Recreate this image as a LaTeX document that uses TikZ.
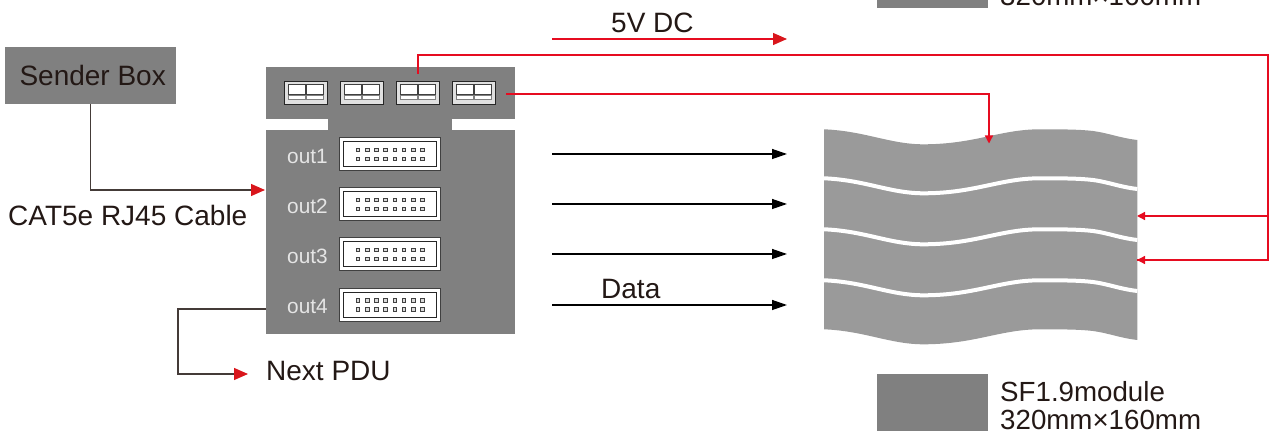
\documentclass[tikz,border=0pt]{standalone}
\usepackage{fontspec}
\setmainfont{Liberation Sans}
\usetikzlibrary{arrows.meta,calc}
\definecolor{boxgray}{HTML}{808080}
\definecolor{wavegray}{HTML}{9A9A9A}
\definecolor{redline}{HTML}{E60C20}
\definecolor{headred}{HTML}{D9161C}
\definecolor{darkline}{HTML}{231815}
\tikzset{
  box/.style={fill=boxgray,draw=none,inner sep=0pt,anchor=north west},
  lbl/.style={inner sep=0pt,text=darkline,font=\fontsize{28}{28}\selectfont},
  leglbl/.style={inner sep=0pt,text=darkline,font=\fontsize{27.7}{27.7}\selectfont},
  outlbl/.style={inner sep=0pt,text=white!90!black,font=\fontsize{20.8}{20.8}\selectfont},
  blackarrow/.style={draw=black,line width=1.3pt,-{Triangle[length=15pt,width=10pt,color=black]}},
  redarrow/.style={draw=redline,line width=1.3pt,-{Triangle[length=8pt,width=8pt,color=redline]}},
  redplain/.style={draw=redline,line width=1.3pt},
  cable/.style={draw=darkline!85!white,line width=1.3pt,-{Triangle[length=14pt,width=12pt,color=headred]}},
  termouter/.style={fill=black!12,draw=black!85,line width=1pt,minimum width=43pt,minimum height=23pt,inner sep=0pt},
  termwin/.style={fill=white,draw=black!75,line width=.8pt,minimum width=17pt,minimum height=9.5pt,inner sep=0pt},
  termstrip/.style={fill=white,draw=black!50,line width=.5pt,minimum width=17pt,minimum height=4.5pt,inner sep=0pt},
  connouter/.style={fill=white,draw=black!75,line width=1pt,minimum width=101pt,minimum height=33pt,inner sep=0pt},
  conninner/.style={fill=white,draw=black!85,line width=1pt,minimum width=93pt,minimum height=25pt,inner sep=0pt},
  pin/.style={fill=black!15,draw=black!75,line width=.7pt,minimum size=3.6pt,inner sep=0pt},
  legend/.style={box,minimum width=111pt,minimum height=57pt},
}
\newcommand{\wavepath}{(824,129.3) .. controls (865,131) and (890,144.3) .. (923.3,144.3)
  .. controls (975,144.3) and (1000,129.3) .. (1040,129.3)
  .. controls (1065,129.3) and (1080,129.5) .. (1093,131)
  .. controls (1108,133) and (1120,138) .. (1137.3,140)}
\begin{document}
\begin{tikzpicture}[x=1pt,y=-1pt]
\clip (0,0) rectangle (1280,435);
\useasboundingbox (0,0) rectangle (1280,435);
% legends
\node[legend] (legtop) at (877,-49) {};
\node[leglbl,anchor=base west] (legtoptxt) at (1000,6) {320mm×160mm};
\node[legend] (legbot) at (877,374) {};
\node[leglbl,anchor=base west] (legbot1) at (1000,401.5) {SF1.9module};
\node[leglbl,anchor=base west] (legbot2) at (1000,429) {320mm×160mm};
% sender box
\node[box,minimum width=171pt,minimum height=57pt] (sender) at (5,47) {};
\node[lbl] (sendertxt) at ([xshift=2pt]sender.center) {Sender Box};
% PDU
\node[box,minimum width=249pt,minimum height=52pt] (pdutop) at (266,67) {};
\node[box,minimum width=249pt,minimum height=204pt] (pdulow) at (266,130) {};
\node[box,minimum width=124pt,minimum height=12pt] (pduneck) at (328,119) {};
% terminals
\foreach \n/\x in {1/305.5,2/361.5,3/417.5,4/473.5}{
  \node[termouter] (term\n) at (\x,93.5) {};
  \node[termwin] at (\x-9,89.5) {};
  \node[termwin] at (\x+9,89.5) {};
  \node[termstrip] at (\x-9,97.5) {};
  \node[termstrip] at (\x+9,97.5) {};
}
% connectors
\foreach \n/\y in {1/154.5,2/204.5,3/254.5,4/305}{
  \node[connouter] (conn\n) at (389.5,\y) {};
  \node[conninner] at (389.5,\y) {};
  \foreach \i in {0,...,7}{
    \node[pin] at (358+\i*9.2,\y-4.5) {};
    \node[pin] at (358+\i*9.2,\y+4.5) {};
  }
  \node[outlbl,anchor=base west] (out\n) at (287,\y+9) {out\n};
}
% module
\path[fill=wavegray] \wavepath -- ++(0,200)
  .. controls (1120,338) and (1108,333) .. (1093,331)
  .. controls (1080,329.5) and (1065,329.3) .. (1040,329.3)
  .. controls (1000,329.3) and (975,344.3) .. (923.3,344.3)
  .. controls (890,344.3) and (865,331) .. (824,329.3) -- cycle;
\foreach \d in {49,100,151}{
  \draw[white,line width=4pt,yshift=-\d pt] \wavepath;
}
% free-end coordinates
\coordinate (pduin) at (265,190);
\coordinate (nextA) at (266,309);
\coordinate (nextB) at (178,309);
\coordinate (nextC) at (248,374);
\coordinate (term3top) at (418,74);
\coordinate (term4r) at (506,94);
\coordinate (modtop) at (989,143.5);
\coordinate (mod2) at (1137,216);
\coordinate (mod3) at (1137,260);
\coordinate (bus) at (1268,55);
% cables
\draw[cable] (sender.south) |- (pduin);
\draw[cable] (nextA) -- (nextB) |- (nextC);
\node[lbl,anchor=base west] (cat) at (8,225.5) {CAT5e RJ45 Cable};
\node[lbl,anchor=base west] (nextpdu) at (266,381) {Next PDU};
% data
\foreach \n/\y in {1/154,2/204,3/254,4/305}{
  \coordinate (ds\n) at (552,\y);
  \coordinate (de\n) at (787,\y);
  \draw[blackarrow] (ds\n) -- (de\n);
}
\node[lbl,anchor=base west] (datatxt) at (601,299) {Data};
% power
\coordinate (vs) at (552,39);
\coordinate (ve) at (787,39);
\draw[redline,line width=1.3pt,-{Triangle[length=14pt,width=12pt,color=headred]}] (vs) -- (ve);
\node[lbl,anchor=base west] (vtxt) at (611,32.5) {5V DC};
\draw[redarrow] (term4r) -| (modtop);
\draw[redplain] (term3top) |- (bus) |- (mod3);
\draw[redarrow] (bus |- mod2) -- (mod2);
\draw[redarrow] (bus |- mod3) -- (mod3);
\end{tikzpicture}
\end{document}
